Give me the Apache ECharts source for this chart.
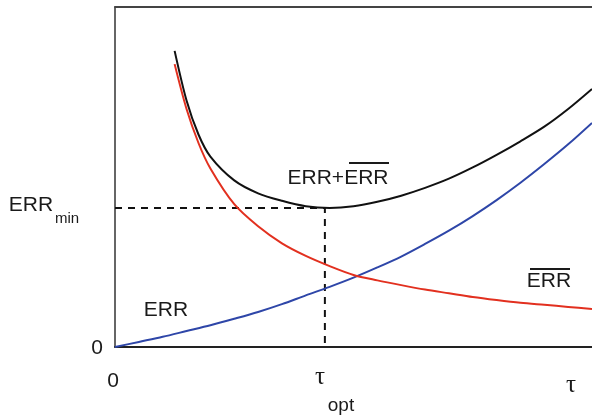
<!DOCTYPE html>
<html><head><meta charset="utf-8">
<script src="https://cdn.jsdelivr.net/npm/echarts@6/dist/echarts.min.js"></script>
<style>html,body{margin:0;padding:0;background:#fff}#c{width:592px;height:415px}</style>
</head><body><div id="c"></div>
<script>
// x: tau (0..10), y: error (0..10) in arbitrary units
const errX = [0, 0.5, 1, 1.5, 2, 2.5, 3, 3.5, 4, 4.5, 5, 5.5, 6, 6.5, 7, 7.5, 8, 8.5, 9, 9.5, 10];
const errY = [0, 0.15, 0.30, 0.47, 0.64, 0.83, 1.03, 1.26, 1.52, 1.77, 2.04, 2.34, 2.66, 3.03, 3.42, 3.85, 4.32, 4.83, 5.38, 5.96, 6.59];
const errBarX = [1.25, 1.5, 1.75, 2, 2.5, 3, 3.5, 4, 4.5, 5, 5.5, 6, 6.5, 7, 7.5, 8, 8.5, 9, 9.5, 10];
const errBarY = [8.32, 7.0, 6.0, 5.25, 4.2, 3.55, 3.05, 2.68, 2.38, 2.12, 1.96, 1.82, 1.69, 1.58, 1.47, 1.38, 1.30, 1.24, 1.18, 1.12];
const sumX = [1.25, 1.5, 1.75, 2, 2.5, 3, 3.5, 4, 4.5, 5, 5.5, 6, 6.5, 7, 7.5, 8, 8.5, 9, 9.5, 10];
const sumY = [8.71, 7.25, 6.25, 5.6, 4.9, 4.52, 4.3, 4.14, 4.09, 4.14, 4.27, 4.45, 4.68, 4.95, 5.28, 5.65, 6.05, 6.48, 7.0, 7.59];
const tauOpt = 4.40;
const errMin = 4.09;

const zip = (xs, ys) => xs.map((x, i) => [x, ys[i]]);
const chart = echarts.init(document.getElementById('c'), null, {renderer: 'canvas'});
const sans = 'Liberation Sans, Arial, sans-serif';
const serif = 'Liberation Serif, Times New Roman, serif';
function txt(x, y, text, size, family, align) {
  return {type: 'text', x: x, y: y, style: {text: text, fontSize: size, fontFamily: family || sans, fill: '#1a1a1a', align: align || 'center', verticalAlign: 'middle'}};
}
function bar(x1, x2, y) {
  return {type: 'line', shape: {x1: x1, y1: y, x2: x2, y2: y}, style: {stroke: '#1a1a1a', lineWidth: 2}};
}
const curve = (data, color, z) => ({type: 'line', data: data, smooth: 0.3, showSymbol: false, symbol: 'none', lineStyle: {color: color, width: 2}, z: z});
chart.setOption({
  animation: false,
  grid: {left: 115, top: 7, right: 0, bottom: 68},
  xAxis: [
    {type: 'value', min: 0, max: 10, position: 'bottom',
     axisLine: {show: true, lineStyle: {color: '#222', width: 2}}, axisTick: {show: false}, axisLabel: {show: false}, splitLine: {show: false}},
    {type: 'value', min: 0, max: 10, position: 'top',
     axisLine: {show: true, lineStyle: {color: '#444', width: 2}}, axisTick: {show: false}, axisLabel: {show: false}, splitLine: {show: false}}
  ],
  yAxis: {type: 'value', min: 0, max: 10,
    axisLine: {show: true, lineStyle: {color: '#333', width: 1.5}}, axisTick: {show: false}, axisLabel: {show: false}, splitLine: {show: false}},
  series: [
    {type: 'line', data: [[0, errMin], [tauOpt, errMin], [tauOpt, 0]], showSymbol: false, symbol: 'none',
     lineStyle: {color: '#111', width: 2, type: [7, 6]}, z: 1},
    curve(zip(errX, errY), '#2e46a8', 2),
    curve(zip(errBarX, errBarY), '#e2301f', 2),
    curve(zip(sumX, sumY), '#111', 3)
  ],
  graphic: [
    txt(31, 205, 'ERR', 21),
    txt(67, 219, 'min', 15),
    txt(97, 348, '0', 21),
    txt(113, 381, '0', 21),
    txt(166, 310, 'ERR', 21),
    txt(338, 178, 'ERR+ERR', 21),
    bar(349, 389, 163),
    txt(549, 281, 'ERR', 21),
    bar(530, 570, 269),
    txt(320, 377, 'τ', 25, serif),
    txt(341, 406, 'opt', 19),
    txt(571, 385, 'τ', 25, serif)
  ]
});
</script></body></html>
